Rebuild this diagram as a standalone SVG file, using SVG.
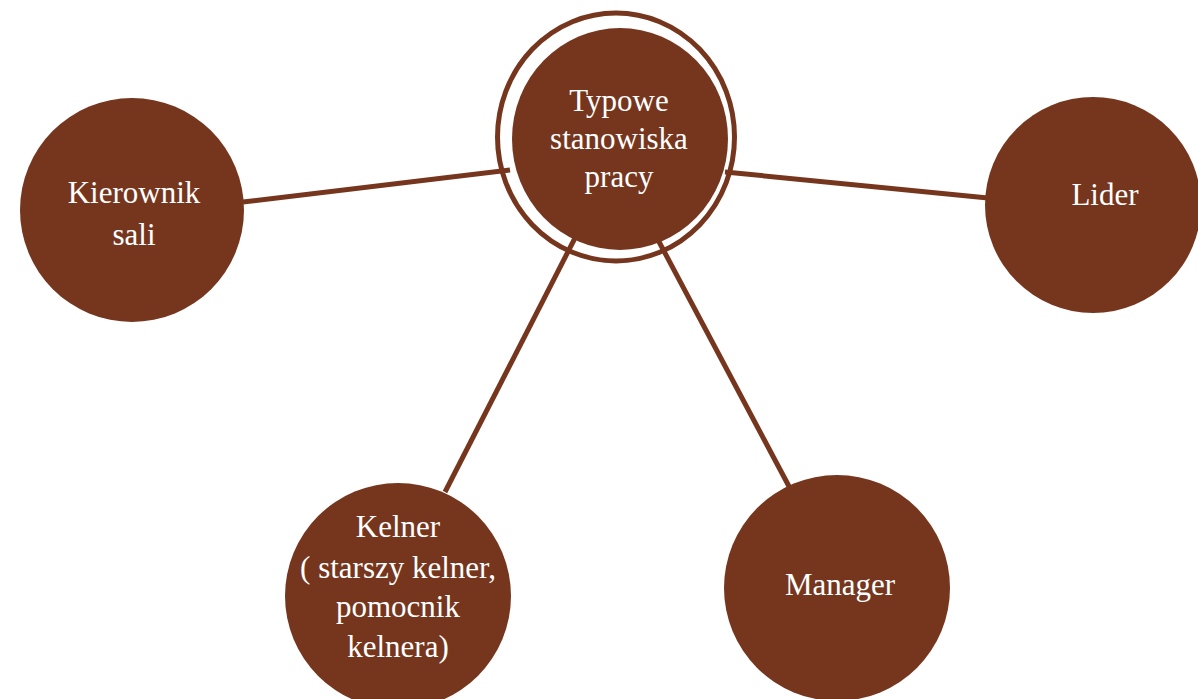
<svg xmlns="http://www.w3.org/2000/svg" width="1198" height="699" viewBox="0 0 1198 699">
<style>
.n{fill:#76361e}
.t{fill:#ffffff;font-family:"Liberation Serif","Times New Roman",serif;font-size:31px;text-anchor:middle}
.c{stroke:#76361e;stroke-width:5;fill:none}
</style>
<rect width="1198" height="699" fill="#ffffff"/>
<g id="connectors">
<line class="c" x1="243" y1="202" x2="510" y2="170"/>
<line class="c" x1="725" y1="172" x2="988" y2="198"/>
<line class="c" x1="575" y1="238" x2="445" y2="492"/>
<line class="c" x1="657" y1="238" x2="792" y2="492"/>
</g>
<g id="center">
<ellipse cx="616" cy="137" rx="118.5" ry="124" fill="none" stroke="#76361e" stroke-width="5"/>
<ellipse class="n" cx="620" cy="139" rx="108" ry="111"/>
<text class="t" x="619" y="111">Typowe</text>
<text class="t" x="619" y="149">stanowiska</text>
<text class="t" x="619" y="187">pracy</text>
</g>
<g id="kierownik">
<circle class="n" cx="132" cy="210" r="112"/>
<text class="t" x="134" y="203">Kierownik</text>
<text class="t" x="134" y="245">sali</text>
</g>
<g id="lider">
<circle class="n" cx="1093" cy="205" r="108"/>
<text class="t" x="1105" y="205">Lider</text>
</g>
<g id="kelner">
<circle class="n" cx="398" cy="596" r="113"/>
<text class="t" x="398" y="537">Kelner</text>
<text class="t" x="398" y="578">( starszy kelner,</text>
<text class="t" x="398" y="617">pomocnik</text>
<text class="t" x="398" y="657">kelnera)</text>
</g>
<g id="manager">
<circle class="n" cx="837" cy="588" r="113"/>
<text class="t" x="840" y="595">Manager</text>
</g>
</svg>
